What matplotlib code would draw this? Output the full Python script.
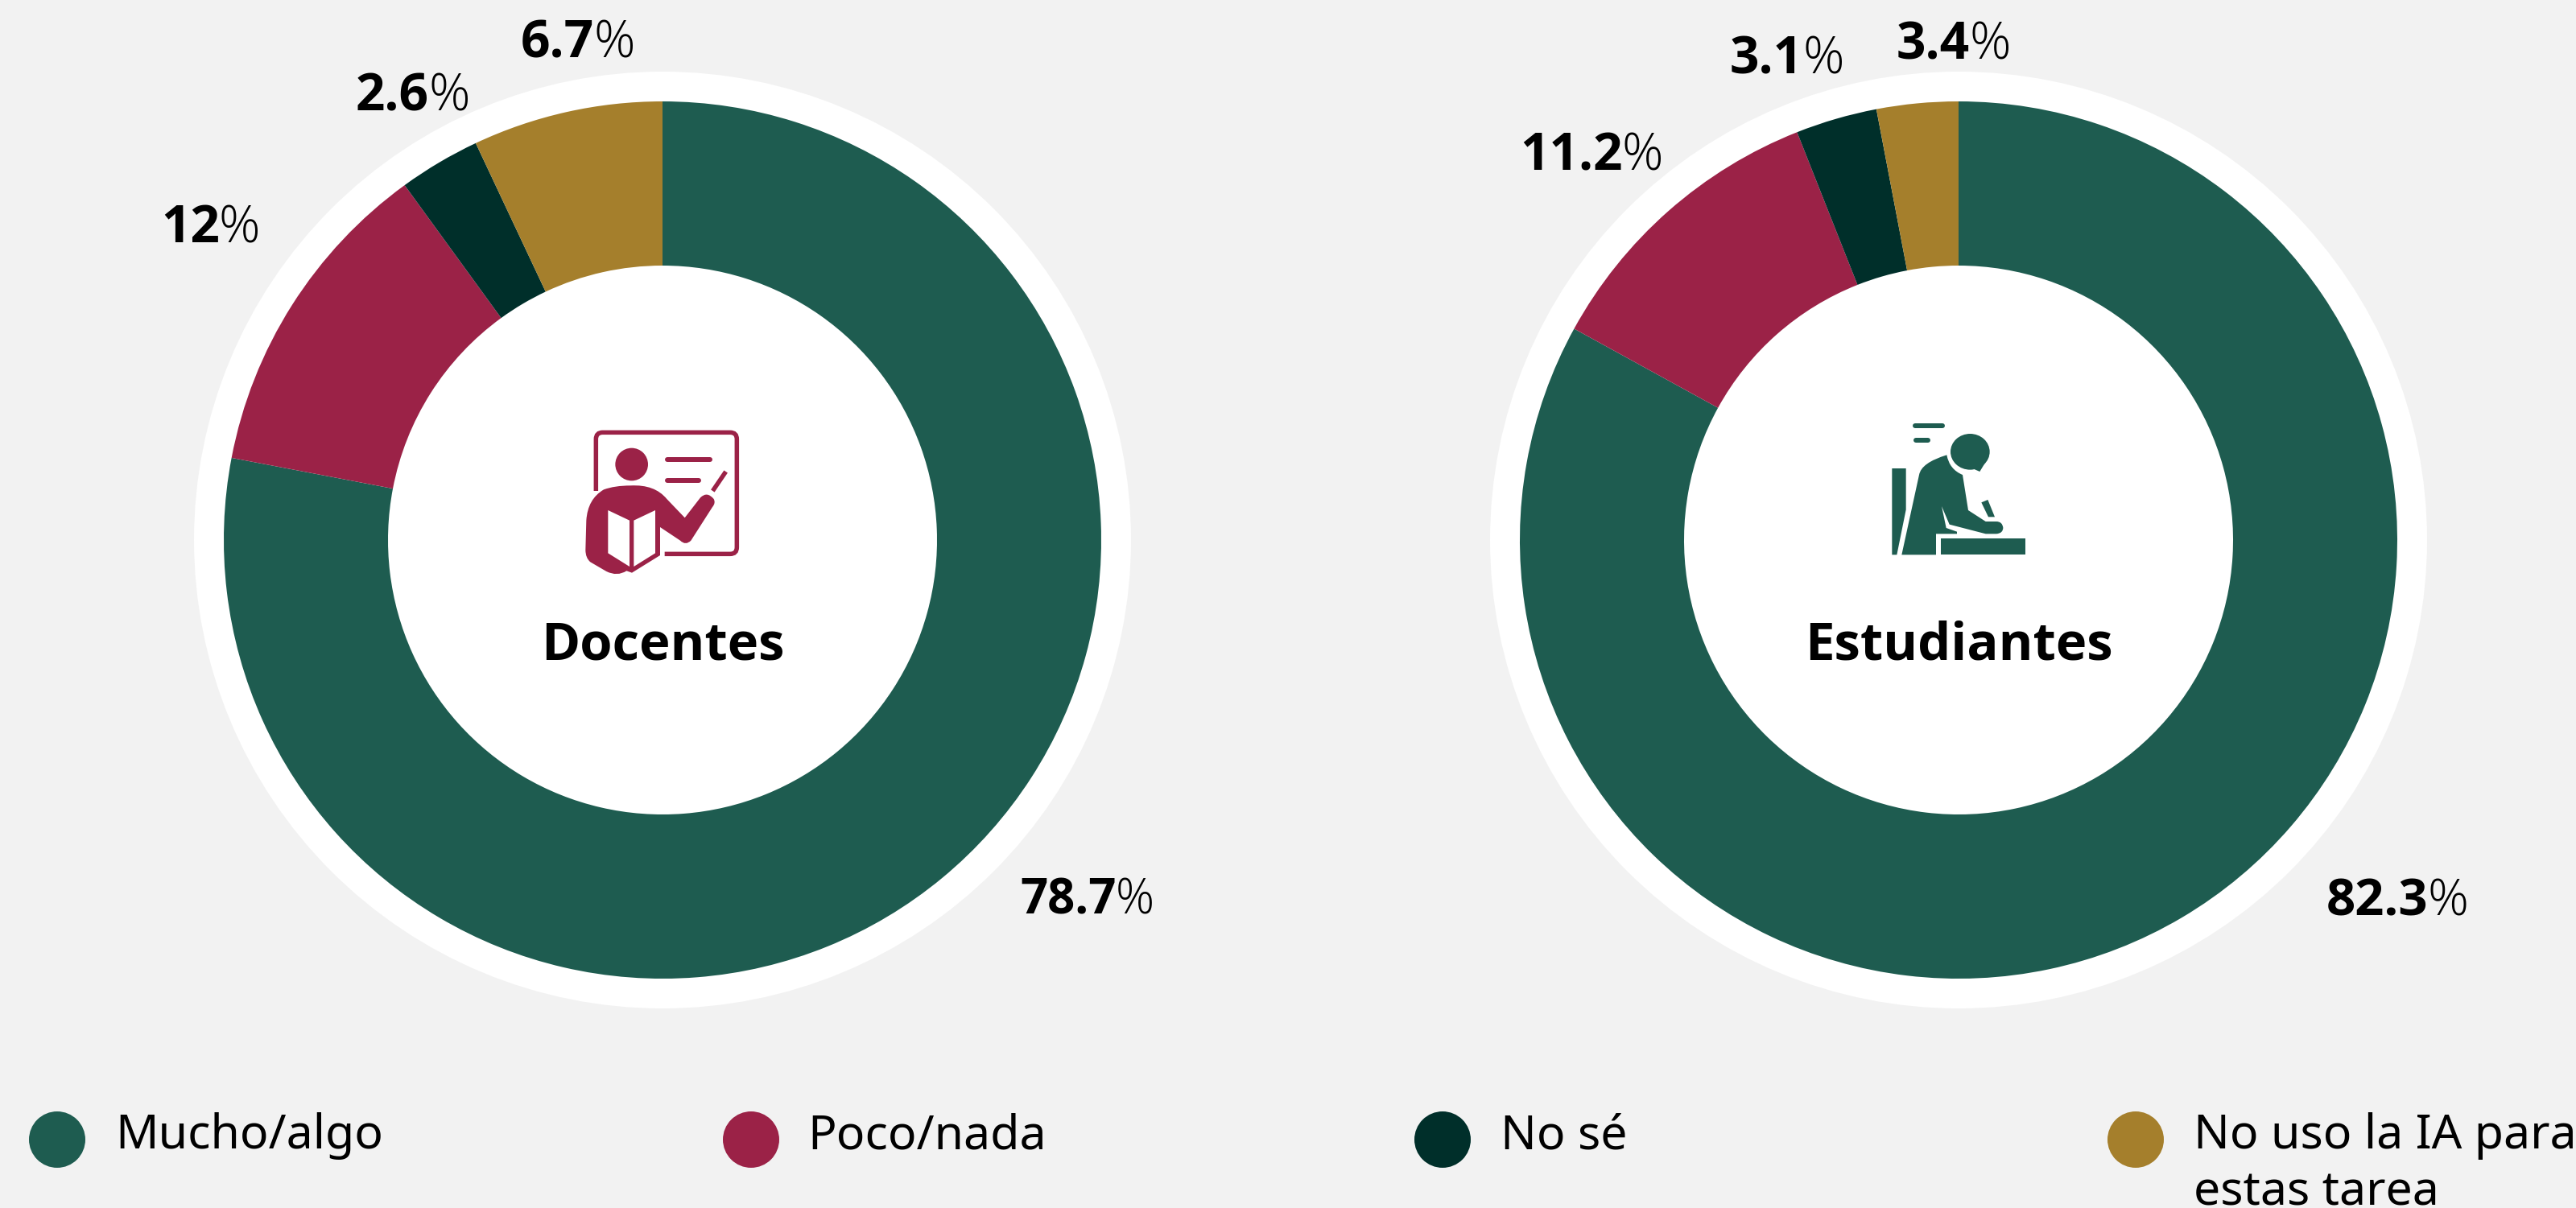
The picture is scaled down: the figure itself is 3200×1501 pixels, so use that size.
import matplotlib
matplotlib.use('Agg')
import matplotlib.pyplot as plt
from matplotlib.patches import Circle, Ellipse, PathPatch, Rectangle
from matplotlib.path import Path

plt.rcParams['font.family'] = ['Open Sans', 'DejaVu Sans']

categories = ['Mucho/algo', 'Poco/nada', 'No sé', 'No uso la IA para\nestas tarea']
# arcos (no coinciden del todo con las etiquetas)
docentes_arc = [78, 12, 3, 7]
estudiantes_arc = [83, 11, 3, 3]
docentes_txt = ['78.7', '12', '2.6', '6.7']
estudiantes_txt = ['82.3', '11.2', '3.1', '3.4']

colors = ['#1E5C50', '#9B2247', '#002F2A', '#A57F2C']
bg = '#F2F2F2'
W, H = 3200, 1501

fig = plt.figure(figsize=(W / 100, H / 100), dpi=100, facecolor=bg)
ax = fig.add_axes([0, 0, 1, 1])
ax.set_facecolor(bg)


def py(y):
    return H - y


def donut(cx, values):
    ax.add_patch(Circle((cx, py(671)), 582, fc='white', ec='none', zorder=1))
    wedges, _ = ax.pie(values, colors=colors, startangle=90, counterclock=False,
                       center=(cx, py(671)), radius=545, frame=True,
                       wedgeprops={'width': 204, 'linewidth': 0})
    for w in wedges:
        w.set_zorder(2)


def label(x, y, num, size):
    # numero en negrita y % en trazo fino, uno detras del otro
    t = ax.text(x, py(y), num, fontsize=size, fontweight='bold', color='black',
                ha='left', va='baseline', zorder=5)
    bb = t.get_window_extent(fig.canvas.get_renderer())
    ax.text(bb.x1 - 1, py(y), '%', fontsize=size, fontweight='light', color='black',
            ha='left', va='baseline', zorder=5)


def shape(segs, ox, oy, color, lw=0, fill=True, cap='butt'):
    # segs en coordenadas del recorte 3x, M/L/Q/Z
    verts, codes = [], []
    conv = lambda p: (p[0] / 3 + ox, py(p[1] / 3 + oy))
    for s in segs:
        if s[0] == 'M':
            verts.append(conv(s[1])); codes.append(Path.MOVETO)
        elif s[0] == 'L':
            verts.append(conv(s[1])); codes.append(Path.LINETO)
        elif s[0] == 'Q':
            verts += [conv(s[1]), conv(s[2])]; codes += [Path.CURVE3, Path.CURVE3]
        elif s[0] == 'Z':
            verts.append(verts[-1]); codes.append(Path.CLOSEPOLY)
    ax.add_patch(PathPatch(Path(verts, codes), fc=color if fill else 'none',
                           ec=color if lw else 'none', lw=lw * 0.72,
                           capstyle=cap, zorder=6))


def poly(pts, ox, oy, color):
    shape([('M', pts[0])] + [('L', p) for p in pts[1:]] + [('Z',)], ox, oy, color)


def bar(a, b, ox, oy, color, lw, cap='round'):
    shape([('M', a), ('L', b)], ox, oy, color, lw=lw, fill=False, cap=cap)


def icon_docente(ox, oy, c):
    shape([('M', (271, 390)), ('L', (271, 197)), ('Q', (271, 172), (296, 172)),
           ('L', (771, 172)), ('Q', (796, 172), (796, 197)), ('L', (796, 600)),
           ('Q', (796, 625), (771, 625)), ('L', (527, 625))], ox, oy, c, lw=5.5, fill=False)
    ax.add_patch(Circle((404 / 3 + ox, py(291 / 3 + oy)), 61 / 3, fc=c, ec='none', zorder=6))
    bar((537, 274), (695, 274), ox, oy, c, 6)
    bar((537, 350), (655, 350), ox, oy, c, 6)
    shape([('M', (706, 390)), ('L', (755, 318))], ox, oy, c, lw=5.5, fill=False)
    shape([('M', (232, 610)), ('L', (235, 500)), ('Q', (240, 420), (300, 385)),
           ('Q', (340, 370), (400, 370)), ('Q', (490, 365), (535, 420)), ('L', (602, 490)),
           ('L', (660, 415)), ('Q', (685, 390), (710, 420)), ('Q', (718, 435), (705, 450)),
           ('L', (625, 575)), ('Q', (605, 595), (585, 575)), ('L', (510, 525)), ('L', (510, 630)),
           ('L', (405, 695)), ('L', (385, 688)), ('Q', (350, 710), (310, 690)), ('L', (250, 655)),
           ('Q', (232, 640), (232, 610)), ('Z',)], ox, oy, c)
    poly([(316, 462), (396, 500), (396, 672), (316, 622)], ox, oy, 'white')
    poly([(412, 500), (492, 462), (492, 622), (412, 672)], ox, oy, 'white')


def icon_estudiante(ox, oy, c):
    bar((298, 148), (400, 148), ox, oy, c, 6)
    bar((299, 200), (346, 200), ox, oy, c, 6)
    poly([(211, 306), (263, 306), (263, 460), (229, 628), (211, 628)], ox, oy, c)
    shape([('M', (415, 256)), ('Q', (320, 285), (312, 330)), ('L', (247, 628)), ('L', (375, 628)),
           ('L', (375, 550)), ('L', (453, 550)), ('L', (453, 542)), ('L', (413, 528)),
           ('L', (396, 447)), ('L', (425, 515)), ('L', (560, 550)), ('L', (600, 550)),
           ('Q', (625, 548), (625, 527)), ('Q', (622, 504), (600, 504)), ('L', (560, 504)),
           ('L', (495, 462)), ('L', (474, 330)), ('Q', (425, 310), (415, 256)), ('Z',)], ox, oy, c)
    ax.add_patch(Ellipse((502 / 3 + ox, py(244 / 3 + oy)), 146 / 3, 134 / 3, fc=c, ec='none', zorder=6))
    poly([(470, 295), (515, 308), (538, 318), (572, 262)], ox, oy, c)
    poly([(544, 433), (568, 423), (594, 487), (570, 487)], ox, oy, c)
    ax.add_patch(Rectangle((393 / 3 + ox, py(628 / 3 + oy)), 314 / 3, 60 / 3, fc=c, ec='none', zorder=6))


donut(823, docentes_arc)
donut(2433, estudiantes_arc)

ax.set_xlim(0, W)
ax.set_ylim(0, H)
ax.set_aspect('auto')
ax.set_axis_off()

doc_pos = [(1267, 1136, 43), (200, 301, 46), (442, 137, 46), (647, 72, 46)]
est_pos = [(2890, 1137, 45.5), (1888, 212, 46), (2149, 91, 46), (2356, 73, 46)]
for txt, (x, y, s) in zip(docentes_txt, doc_pos):
    label(x, y, txt, s)
for txt, (x, y, s) in zip(estudiantes_txt, est_pos):
    label(x, y, txt, s)

ax.text(823, py(819), 'Docentes', fontsize=47, fontweight='bold', ha='center', va='baseline', zorder=5)
ax.text(2433, py(819), 'Estudiantes', fontsize=47, fontweight='bold', ha='center', va='baseline', zorder=5)

icon_docente(650, 480, colors[1])
icon_estudiante(2280, 480, colors[0])

leg_cx = [71, 933, 1792, 2653]
leg_tx = [143, 1003, 1864, 2725]
for cx, tx, cat, col in zip(leg_cx, leg_tx, categories, colors):
    ax.add_patch(Circle((cx, py(1416)), 35, fc=col, ec='none', zorder=4))
    for i, line in enumerate(cat.split('\n')):
        ax.text(tx, py(1427 + 70 * i), line, fontsize=42.5, family=['Noto Sans', 'DejaVu Sans'],
                color='black', ha='left', va='baseline', zorder=5)

fig.savefig('out.png', dpi=100, facecolor=bg)
